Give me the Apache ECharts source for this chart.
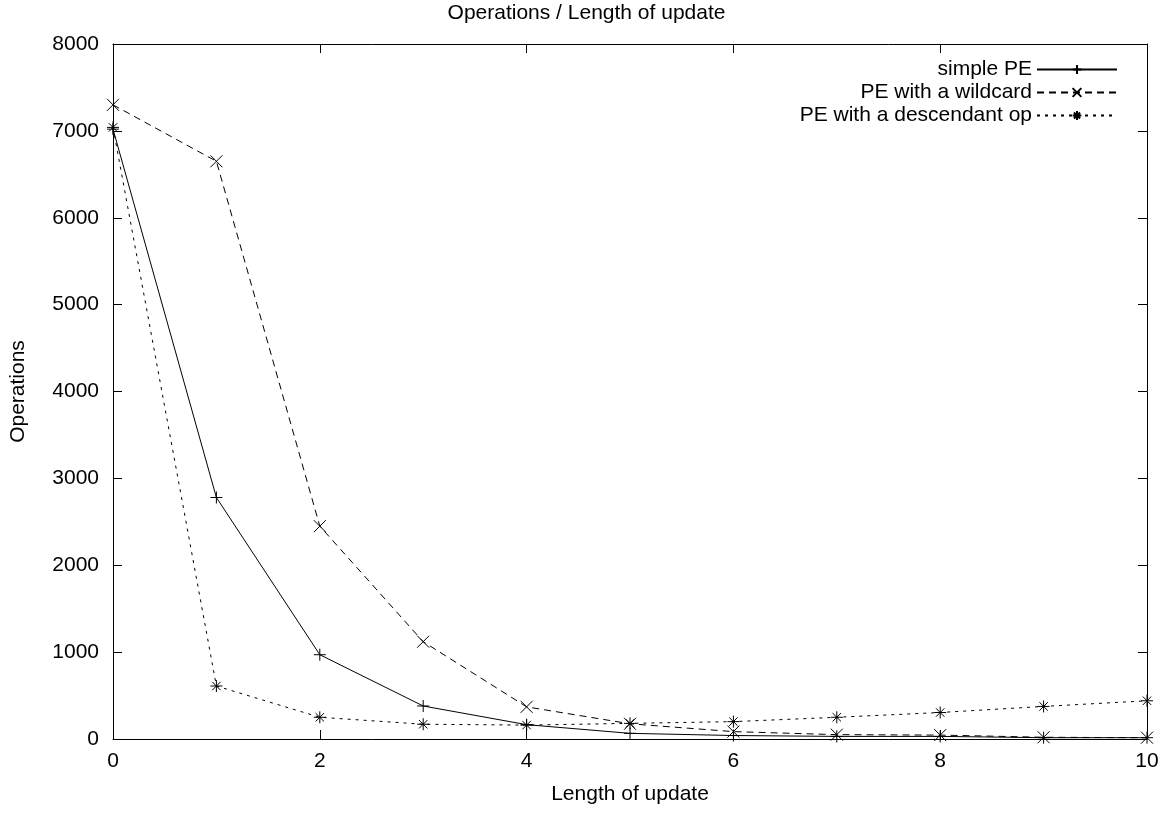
<!DOCTYPE html>
<html>
<head>
<meta charset="utf-8">
<script src="https://cdn.jsdelivr.net/npm/echarts@6/dist/echarts.min.js"></script>
<style>
  html, body { margin: 0; padding: 0; background: #fff; }
  #main { width: 1173px; height: 814px; }
</style>
</head>
<body>
<div id="main"></div>
<script>
// length of update (x axis)
var lengths = [0, 1, 2, 3, 4, 5, 6, 7, 8, 9, 10];
// operations per series
var simplePE = [7020, 2780, 970, 380, 165, 65, 40, 30, 30, 15, 15];
var wildcardPE = [7300, 6650, 2450, 1120, 370, 175, 85, 50, 45, 20, 15];
var descendantPE = [7040, 610, 250, 170, 160, 180, 200, 250, 305, 375, 440];

var names = ['simple PE', 'PE with a wildcard', 'PE with a descendant op'];

var plusSym = 'path://M0,5L10,5M5,0L5,10';
var crossSym = 'path://M0,0L10,10M0,10L10,0';
var starSym = 'path://M0,5L10,5M5,0L5,10M1.5,1.5L8.5,8.5M1.5,8.5L8.5,1.5';

function pairs(vals) {
  var out = [];
  for (var i = 0; i < lengths.length; i++) {
    out.push([lengths[i], vals[i]]);
  }
  return out;
}

function mkSeries(name, vals, sym, dash) {
  return {
    name: name,
    type: 'line',
    data: pairs(vals),
    symbol: sym,
    symbolSize: 12,
    showSymbol: true,
    itemStyle: { color: 'none', borderColor: '#000', borderWidth: 1 },
    lineStyle: { color: '#000', width: 1, type: dash },
    emphasis: { disabled: true },
    animation: false
  };
}

var font = 'Liberation Sans, Arial, sans-serif';
var fs = 21;
var ele = echarts.init(document.getElementById('main'));

// gnuplot style: ticks inward, mirrored on top/right
var tickIn = { show: true, inside: true, length: 9, lineStyle: { color: '#000', width: 1 } };
var axLine = { show: true, onZero: false, lineStyle: { color: '#000', width: 1 } };
var plain = function (v) { return String(v); };

var option = {
  backgroundColor: '#fff',
  animation: false,
  title: {
    text: 'Operations / Length of update',
    left: 'center',
    top: -2,
    textStyle: { fontFamily: font, fontSize: fs, fontWeight: 'normal', color: '#000' }
  },
  legend: {
    data: names,
    orient: 'vertical',
    right: 50,
    top: 54,
    align: 'right',
    itemWidth: 80,
    itemHeight: 11,
    itemGap: 2,
    textStyle: { fontFamily: font, fontSize: fs, color: '#000' }
  },
  grid: { left: 113, right: 26, top: 44, bottom: 75, containLabel: false },
  xAxis: [
    {
      type: 'value',
      min: 0,
      max: 10,
      interval: 2,
      name: 'Length of update',
      nameLocation: 'middle',
      nameGap: 45,
      nameTextStyle: { fontFamily: font, fontSize: fs, color: '#000' },
      axisLine: axLine,
      axisTick: tickIn,
      axisLabel: { fontFamily: font, fontSize: fs, color: '#000', margin: 12, formatter: plain },
      splitLine: { show: false }
    },
    {
      type: 'value',
      position: 'top',
      min: 0,
      max: 10,
      interval: 2,
      axisLine: axLine,
      axisTick: tickIn,
      axisLabel: { show: false },
      splitLine: { show: false }
    }
  ],
  yAxis: [
    {
      type: 'value',
      min: 0,
      max: 8000,
      interval: 1000,
      name: 'Operations',
      nameLocation: 'middle',
      nameGap: 84,
      nameRotate: 90,
      nameTextStyle: { fontFamily: font, fontSize: fs, color: '#000' },
      axisLine: axLine,
      axisTick: tickIn,
      axisLabel: { fontFamily: font, fontSize: fs, color: '#000', margin: 14, formatter: plain },
      splitLine: { show: false }
    },
    {
      type: 'value',
      position: 'right',
      min: 0,
      max: 8000,
      interval: 1000,
      axisLine: axLine,
      axisTick: tickIn,
      axisLabel: { show: false },
      splitLine: { show: false }
    }
  ],
  series: [
    mkSeries(names[0], simplePE, plusSym, 'solid'),
    mkSeries(names[1], wildcardPE, crossSym, [7, 5]),
    mkSeries(names[2], descendantPE, starSym, [3, 5])
  ]
};

ele.setOption(option);
</script>
</body>
</html>
